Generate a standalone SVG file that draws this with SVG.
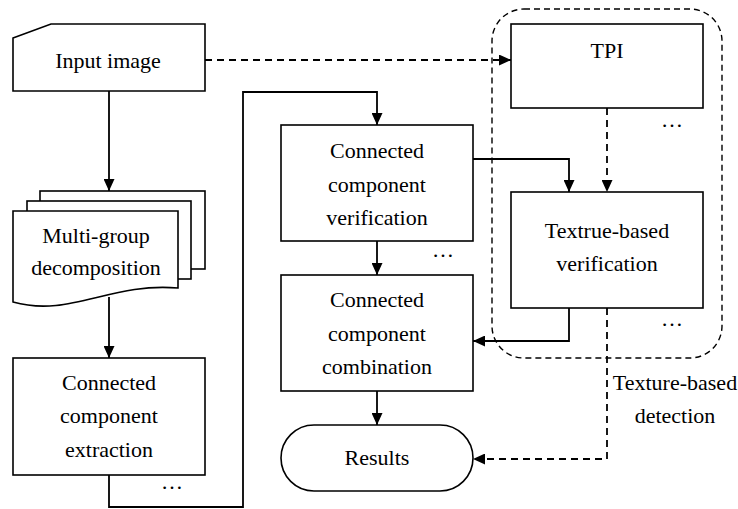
<svg xmlns="http://www.w3.org/2000/svg" width="738" height="509" viewBox="0 0 738 509">
<style>
.box{fill:#fff;stroke:#000;stroke-width:1.6}
.t{font-family:'Liberation Serif','Times New Roman',serif;font-size:22px;fill:#000;text-anchor:middle}
.ln{fill:none;stroke:#000;stroke-width:1.8}
.ds{fill:none;stroke:#000;stroke-width:1.8;stroke-dasharray:7 5}
.ct{fill:none;stroke:#000;stroke-width:1.4;stroke-dasharray:6 4}
</style>
<defs>
<marker id="ah" markerUnits="userSpaceOnUse" markerWidth="12" markerHeight="11" refX="12" refY="5.5" orient="auto">
<path d="M0,0 L12,5.5 L0,11 z" fill="#000"/>
</marker>
</defs>
<rect fill="#fff" width="738" height="509"/>
<g id="container">
<rect class="ct" x="492" y="9" width="230" height="349" rx="32" ry="32"/>
</g>
<g id="input">
<path class="box" d="M13,38 L51,24 H205 V91 H13 Z"/>
<text class="t" x="108" y="68">Input image</text>
</g>
<g id="multigroup">
<rect class="box" x="40" y="191" width="165" height="78"/>
<rect class="box" x="27" y="201" width="164" height="78"/>
<path class="box" d="M13,211 H178 V288 C110,282 70,318 13,302 Z"/>
<text class="t" x="96" y="243">Multi-group</text>
<text class="t" x="96" y="275">decomposition</text>
</g>
<g id="extraction">
<rect class="box" x="13" y="358" width="192" height="117"/>
<text class="t" x="109" y="390">Connected</text>
<text class="t" x="109" y="423">component</text>
<text class="t" x="109" y="457">extraction</text>
<text class="t" x="172" y="489">…</text>
</g>
<g id="verification">
<rect class="box" x="281" y="125" width="192" height="116"/>
<text class="t" x="377" y="158">Connected</text>
<text class="t" x="377" y="192">component</text>
<text class="t" x="377" y="225">verification</text>
<text class="t" x="443" y="257">…</text>
</g>
<g id="combination">
<rect class="box" x="281" y="275" width="192" height="116"/>
<text class="t" x="377" y="307">Connected</text>
<text class="t" x="377" y="341">component</text>
<text class="t" x="377" y="374">combination</text>
</g>
<g id="results">
<rect class="box" x="281" y="425" width="192" height="66" rx="33" ry="33"/>
<text class="t" x="377" y="465">Results</text>
</g>
<g id="tpi">
<rect class="box" x="511" y="24" width="192" height="84"/>
<text class="t" x="607" y="58">TPI</text>
<text class="t" x="672" y="127">…</text>
</g>
<g id="texture">
<rect class="box" x="511" y="192" width="192" height="116"/>
<text class="t" x="607" y="238">Textrue-based</text>
<text class="t" x="607" y="271">verification</text>
<text class="t" x="672" y="326">…</text>
</g>
<g id="label">
<text class="t" x="675" y="390">Texture-based</text>
<text class="t" x="675" y="423">detection</text>
</g>
<g id="connectors">
<path class="ln" d="M109,91 V191" marker-end="url(#ah)"/>
<path class="ln" d="M109,297 V358" marker-end="url(#ah)"/>
<path class="ln" d="M109,475 V507 H243 V92 H377 V125" marker-end="url(#ah)"/>
<path class="ln" d="M377,241 V275" marker-end="url(#ah)"/>
<path class="ln" d="M377,391 V425" marker-end="url(#ah)"/>
<path class="ln" d="M473,159 H569 V192" marker-end="url(#ah)"/>
<path class="ln" d="M569,308 V341 H473" marker-end="url(#ah)"/>
<path class="ds" d="M205,60 H511" marker-end="url(#ah)"/>
<path class="ds" d="M607,108 V192" marker-end="url(#ah)"/>
<path class="ds" d="M607,308 V459 H473" marker-end="url(#ah)"/>
</g>
</svg>
